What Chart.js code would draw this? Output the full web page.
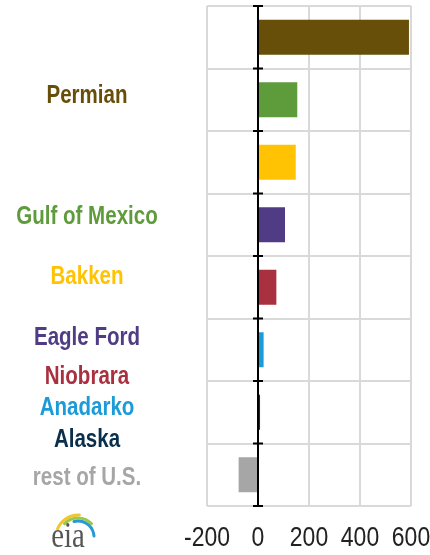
<!DOCTYPE html>
<html>
<head>
<meta charset="utf-8">
<script src="https://cdn.jsdelivr.net/npm/chart.js@4"></script>
<style>
  html, body { margin: 0; padding: 0; background: #fff; }
  #wrap { width: 430px; height: 555px; position: relative; }
</style>
</head>
<body>
<div id="wrap"><canvas id="grafico"></canvas></div>
<script>
// ---- dados ----
const regioes = ['Permian', 'Gulf of Mexico', 'Bakken', 'Eagle Ford',
                 'Niobrara', 'Anadarko', 'Alaska', 'rest of U.S.'];
const valores = [592, 154, 148, 106, 72, 22, 8, -76];
const cores   = ['#674f0a', '#5e9b3b', '#ffc304', '#4f3c84',
                 '#a8303f', '#1b9bd8', '#0a2f4c', '#a6a6a6'];
const ticksX  = [-200, 0, 200, 400, 600];

const FONTE = '"Liberation Sans", Arial, sans-serif';

// rótulos soltos à esquerda (não alinhados às barras, como no original)
const posRotulos = [96, 217, 277, 338, 377, 408, 440, 478];

// texto "estreito": fonte normal comprimida na horizontal
function textoEstreito(ctx, txt, x, y, fator) {
  ctx.save();
  ctx.translate(x, y);
  ctx.scale(fator, 1);
  ctx.fillText(txt, 0, 0);
  ctx.restore();
}

const extras = {
  id: 'extras',
  afterDatasetsDraw(chart) {
    const { ctx, scales: { x, y } } = chart;
    const x0 = x.getPixelForValue(0);
    ctx.save();
    // eixo zero com marcas
    ctx.strokeStyle = '#000';
    ctx.lineWidth = 2;
    ctx.beginPath();
    ctx.moveTo(x0, y.top);
    ctx.lineTo(x0, y.bottom);
    for (let i = 0; i <= regioes.length; i++) {
      const yy = y.top + (y.bottom - y.top) * i / regioes.length;
      ctx.moveTo(x0 - 5, yy);
      ctx.lineTo(x0 + 5, yy);
    }
    ctx.stroke();

    // rótulos das regiões
    ctx.textAlign = 'center';
    ctx.textBaseline = 'middle';
    ctx.font = 'bold 26px ' + FONTE;
    regioes.forEach((r, i) => {
      ctx.fillStyle = cores[i];
      textoEstreito(ctx, r, 87, posRotulos[i], 0.79);
    });

    // rótulos do eixo x
    ctx.fillStyle = '#222';
    ctx.font = '28px ' + FONTE;
    ticksX.forEach(v => textoEstreito(ctx, String(v), x.getPixelForValue(v), 538, 0.82));

    // logo eia
    ctx.lineCap = 'round';
    ctx.lineWidth = 3;
    [['#f2c62e', 22, 1.12, 1.52], ['#9cc84a', 19, 1.25, 1.75], ['#2a98d4', 16, 1.42, 1.98]]
      .forEach(([c, r, a0, a1]) => {
        ctx.strokeStyle = c;
        ctx.beginPath();
        ctx.arc(78, 537, r, Math.PI * a0, Math.PI * a1);
        ctx.stroke();
      });
    ctx.fillStyle = '#555';
    ctx.font = '36px "Liberation Serif", "DejaVu Serif", serif';
    ctx.textBaseline = 'alphabetic';
    textoEstreito(ctx, 'eia', 68, 547, 0.8);
    ctx.restore();
  }
};

new Chart(document.getElementById('grafico'), {
  type: 'bar',
  data: {
    labels: regioes,
    datasets: [{
      data: valores,
      backgroundColor: cores,
      borderWidth: 0,
      barPercentage: 0.56,
      categoryPercentage: 1
    }]
  },
  options: {
    indexAxis: 'y',
    responsive: true,
    maintainAspectRatio: false,
    animation: false,
    layout: { padding: { left: 207, top: 6, right: 19, bottom: 0 } },
    plugins: { legend: { display: false }, tooltip: { enabled: false } },
    scales: {
      x: {
        min: -200, max: 600,
        afterBuildTicks: s => { s.ticks = ticksX.map(v => ({ value: v })); },
        afterFit: s => { s.height = 49; },
        grid: { color: '#d9d9d9', lineWidth: 2, drawTicks: false },
        border: { display: false },
        ticks: { display: false }
      },
      y: {
        afterFit: s => { s.width = 0; },
        ticks: { display: false },
        grid: { offset: true, color: '#d9d9d9', lineWidth: 2, drawTicks: false },
        border: { display: false }
      }
    }
  },
  plugins: [extras]
});
</script>
</body>
</html>
